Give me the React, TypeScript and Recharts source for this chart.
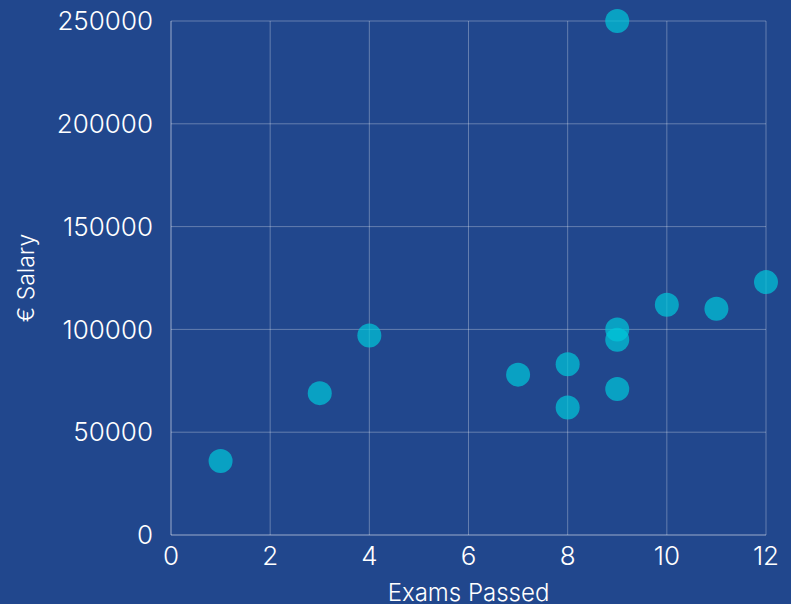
import React from "react";
import {
  ScatterChart,
  Scatter,
  XAxis,
  YAxis,
  CartesianGrid,
} from "recharts";

const examsPassed = [1, 3, 4, 7, 8, 8, 9, 9, 9, 9, 10, 11, 12];
const salaries = [
  36000, 69000, 97000, 78000, 83000, 62000, 250000, 100000, 95000, 71000,
  112000, 110000, 123000,
];
const xTicks = [0, 2, 4, 6, 8, 10, 12];
const yTicks = [0, 50000, 100000, 150000, 200000, 250000];

const data = examsPassed.map((exams, i) => ({ exams, salary: salaries[i] }));

const FONT = "Inter, sans-serif";
const GRID = "rgba(255,255,255,0.3)";
const TEXT = "#ffffff";

// big translucent dots, overlaps get brighter
const Dot = (props: any) => (
  <circle cx={props.cx} cy={props.cy} r={12} fill="#00c8da" fillOpacity={0.7} />
);

export default function App() {
  return (
    <div style={{ position: "absolute", left: 0, top: 0, background: "#21478d" }}>
      <ScatterChart
        width={791}
        height={604}
        margin={{ top: 21, right: 25, bottom: 0, left: 0 }}
      >
        <CartesianGrid stroke={GRID} />
        <XAxis
          type="number"
          dataKey="exams"
          domain={[0, 12]}
          ticks={xTicks}
          height={69}
          tickLine={false}
          tickMargin={6}
          axisLine={{ stroke: GRID }}
          tick={{ fill: TEXT, fontSize: 26, fontFamily: FONT, fontWeight: 300 }}
          label={{
            value: "Exams Passed",
            position: "insideBottom",
            offset: 3,
            fill: TEXT,
            fontSize: 24,
            fontFamily: FONT,
            fontWeight: 300,
          }}
        />
        <YAxis
          type="number"
          dataKey="salary"
          domain={[0, 250000]}
          ticks={yTicks}
          width={171}
          tickLine={false}
          tickMargin={12}
          axisLine={{ stroke: GRID }}
          tick={{ fill: TEXT, fontSize: 26, fontFamily: FONT, fontWeight: 300 }}
          label={{
            value: "€ Salary",
            angle: -90,
            position: "center",
            dx: -60,
            fill: TEXT,
            fontSize: 23,
            fontFamily: FONT,
            fontWeight: 300,
          }}
        />
        <Scatter data={data} shape={Dot} isAnimationActive={false} />
      </ScatterChart>
    </div>
  );
}
